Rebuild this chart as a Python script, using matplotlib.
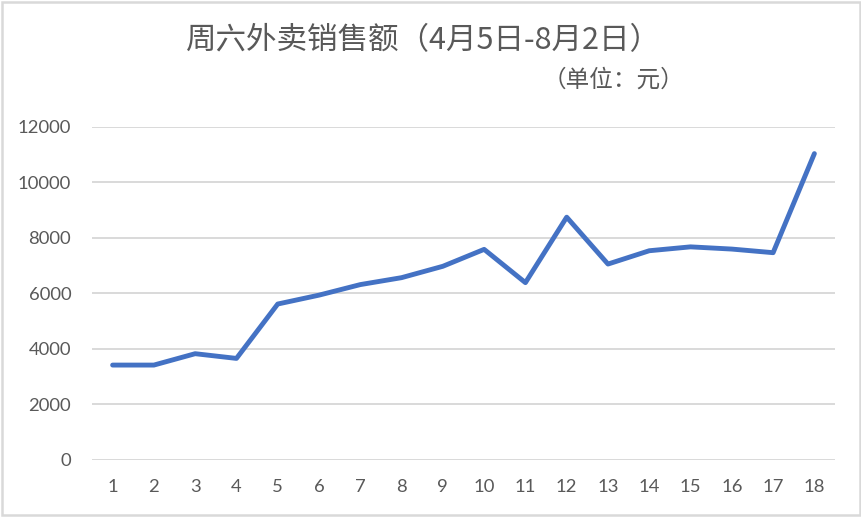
import matplotlib
matplotlib.use("Agg")
import matplotlib.pyplot as plt
from matplotlib.patches import Rectangle

plt.rcParams['font.family'] = ['Noto Sans CJK SC', 'DejaVu Sans']

weeks = list(range(1, 19))
week_labels = [str(w) for w in weeks]
sales = [3420, 3420, 3830, 3660, 5620, 5940, 6320, 6570, 6980,
         7590, 6390, 8750, 7060, 7540, 7680, 7600, 7470, 11040]
y_ticks = [0, 2000, 4000, 6000, 8000, 10000, 12000]

title = "周六外卖销售额（4月5日-8月2日）"
subtitle = "（单位：元）"

fig = plt.figure(figsize=(8.62, 5.17), dpi=100)
ax = fig.add_axes([0.1067, 0.1103, 0.8620, 0.6441])

ax.plot(weeks, sales, color='#4472C4', linewidth=3.5, solid_capstyle='round',
        solid_joinstyle='round', zorder=3)

ax.set_xlim(0.5, 18.5)
ax.set_ylim(0, 12000)
ax.set_yticks(y_ticks)
ax.set_yticklabels([str(v) for v in y_ticks])
ax.set_xticks(weeks)
ax.set_xticklabels(week_labels)
ax.grid(axis='y', color='#D9D9D9', linewidth=1.4, zorder=1)
ax.set_axisbelow(True)
for s in ax.spines.values():
    s.set_visible(False)
ax.tick_params(axis='both', length=0, colors='#595959', labelsize=13.3)
ax.tick_params(axis='y', pad=15)
ax.tick_params(axis='x', pad=14)
for lab in ax.get_xticklabels() + ax.get_yticklabels():
    lab.set_family(['Lato', 'DejaVu Sans'])

fig.text(0.491, 0.921, title, ha='center', va='center', fontsize=22, color='#595959')
fig.text(0.794, 0.845, subtitle, ha='right', va='center', fontsize=17, color='#595959')

fig.add_artist(Rectangle((0.002, 0.003), 0.996, 0.994, transform=fig.transFigure,
                         fill=False, edgecolor='#D9D9D9', linewidth=1.8))

fig.savefig('out.png', dpi=100)
